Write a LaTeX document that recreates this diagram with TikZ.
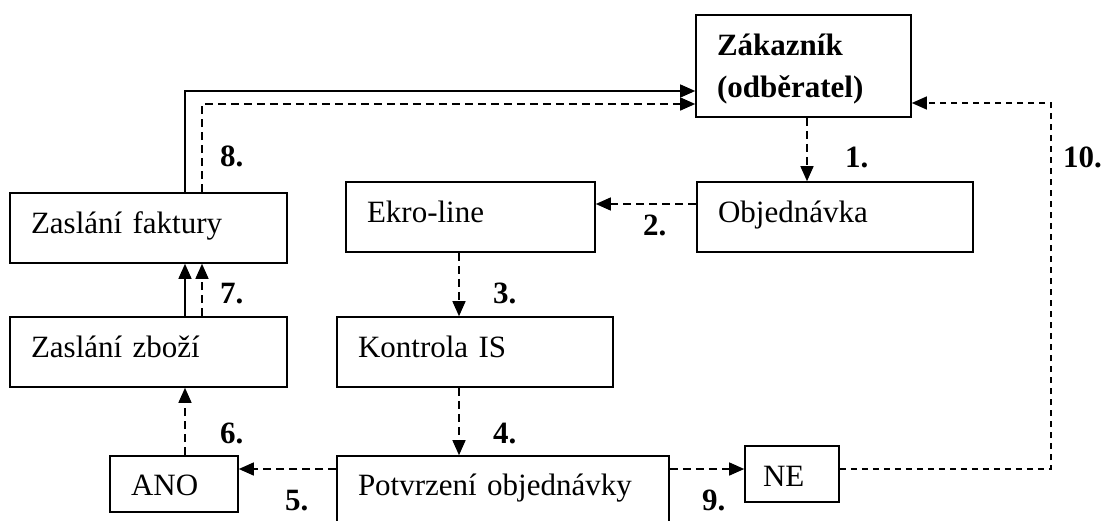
\documentclass[tikz,border=0pt]{standalone}
\usepackage{fontspec}
\setmainfont{Liberation Serif}
\usetikzlibrary{arrows.meta}

\tikzset{
  stepbox/.style={draw, line width=1.6pt, inner ysep=0pt, inner xsep=21pt, align=left,
    text height=40pt, text depth=30pt},
  smallbox/.style={stepbox, text height=39pt, text depth=17pt},
  num/.style={font=\fontsize{31}{38}\selectfont\bfseries, inner sep=0pt, anchor=base west},
  flow/.style={line width=1.4pt, dash pattern=on 8pt off 5pt, -{Triangle[length=15pt,width=13pt]}},
  solidflow/.style={line width=1.4pt, -{Triangle[length=15pt,width=13pt]}},
  backflow/.style={line width=1.2pt, dash pattern=on 6pt off 5pt, -{Triangle[length=15pt,width=13pt]}}
}

\begin{document}
\begin{tikzpicture}[x=1pt,y=1pt,yscale=-1,font=\fontsize{31}{42}\selectfont]
\useasboundingbox (0,0) rectangle (1102,520);

% boxes
\node[stepbox, text width=173pt, text depth=62pt, font=\fontsize{31}{42}\selectfont\bfseries] (zak) at (803.5,66) {Zákazník\\(odběratel)};
\node[stepbox, text width=234pt] (obj) at (835,217) {Objednávka};
\node[stepbox, text width=207pt] (ekro) at (470.5,217) {Ekro-line};
\node[stepbox, text width=235pt] (fakt) at (148.5,228) {Zaslání faktury};
\node[stepbox, text width=235pt] (zbozi) at (148.5,352) {Zaslání zboží};
\node[stepbox, text width=234pt] (kontr) at (475,352) {Kontrola IS};
\node[stepbox, text width=290pt, text height=39pt, text depth=31pt] (potv) at (503,491) {Potvrzení objednávky};
\node[smallbox, text width=86pt] (ano) at (174,484) {ANO};
\node[smallbox, inner xsep=18pt, text width=58pt, text height=40pt, text depth=16pt] (ne) at (792,474) {NE};

% connectors (yshift runs downwards here because of yscale=-1)
\draw[flow] ([xshift=3.5pt]zak.south) -- ([xshift=3.5pt]zak.south |- obj.north);
\draw[flow] ([yshift=-13pt]obj.west) -- ([yshift=-13pt]obj.west -| ekro.east);
\draw[flow] ([xshift=-11.5pt]ekro.south) -- ([xshift=-11.5pt]ekro.south |- kontr.north);
\draw[flow] ([xshift=-16pt]kontr.south) -- ([xshift=-16pt]kontr.south |- potv.north);
\draw[flow] ([yshift=-22pt]potv.west) -- ([yshift=-22pt]potv.west -| ano.east);
\draw[flow] ([xshift=11pt]ano.north) -- ([xshift=11pt]ano.north |- zbozi.south);
\draw[solidflow] ([xshift=36.5pt]zbozi.north) -- ([xshift=36.5pt]zbozi.north |- fakt.south);
\draw[flow] ([xshift=53.5pt]zbozi.north) -- ([xshift=53.5pt]zbozi.north |- fakt.south);
\draw[solidflow] ([xshift=36.5pt]fakt.north) |- ([yshift=25pt]zak.west);
\draw[flow] ([xshift=53.5pt]fakt.north) |- ([yshift=38pt]zak.west);
\draw[flow] ([yshift=-22pt]potv.east) -- ([yshift=-22pt]potv.east -| ne.west);
\coordinate (ret) at (1051,103);
\draw[backflow] ([yshift=-5pt]ne.east) -| (ret) -- (ret -| zak.east);

% step numbers
\node[num] (n1) at (845,167) {1.};
\node[num] (n2) at (643,235) {2.};
\node[num] (n3) at (493,303) {3.};
\node[num] (n4) at (493,443) {4.};
\node[num] (n5) at (285,510) {5.};
\node[num] (n6) at (220,443) {6.};
\node[num] (n7) at (220,303) {7.};
\node[num] (n8) at (220,166) {8.};
\node[num] (n9) at (702,510) {9.};
\node[num] (n10) at (1063,167) {10.};
\end{tikzpicture}
\end{document}
